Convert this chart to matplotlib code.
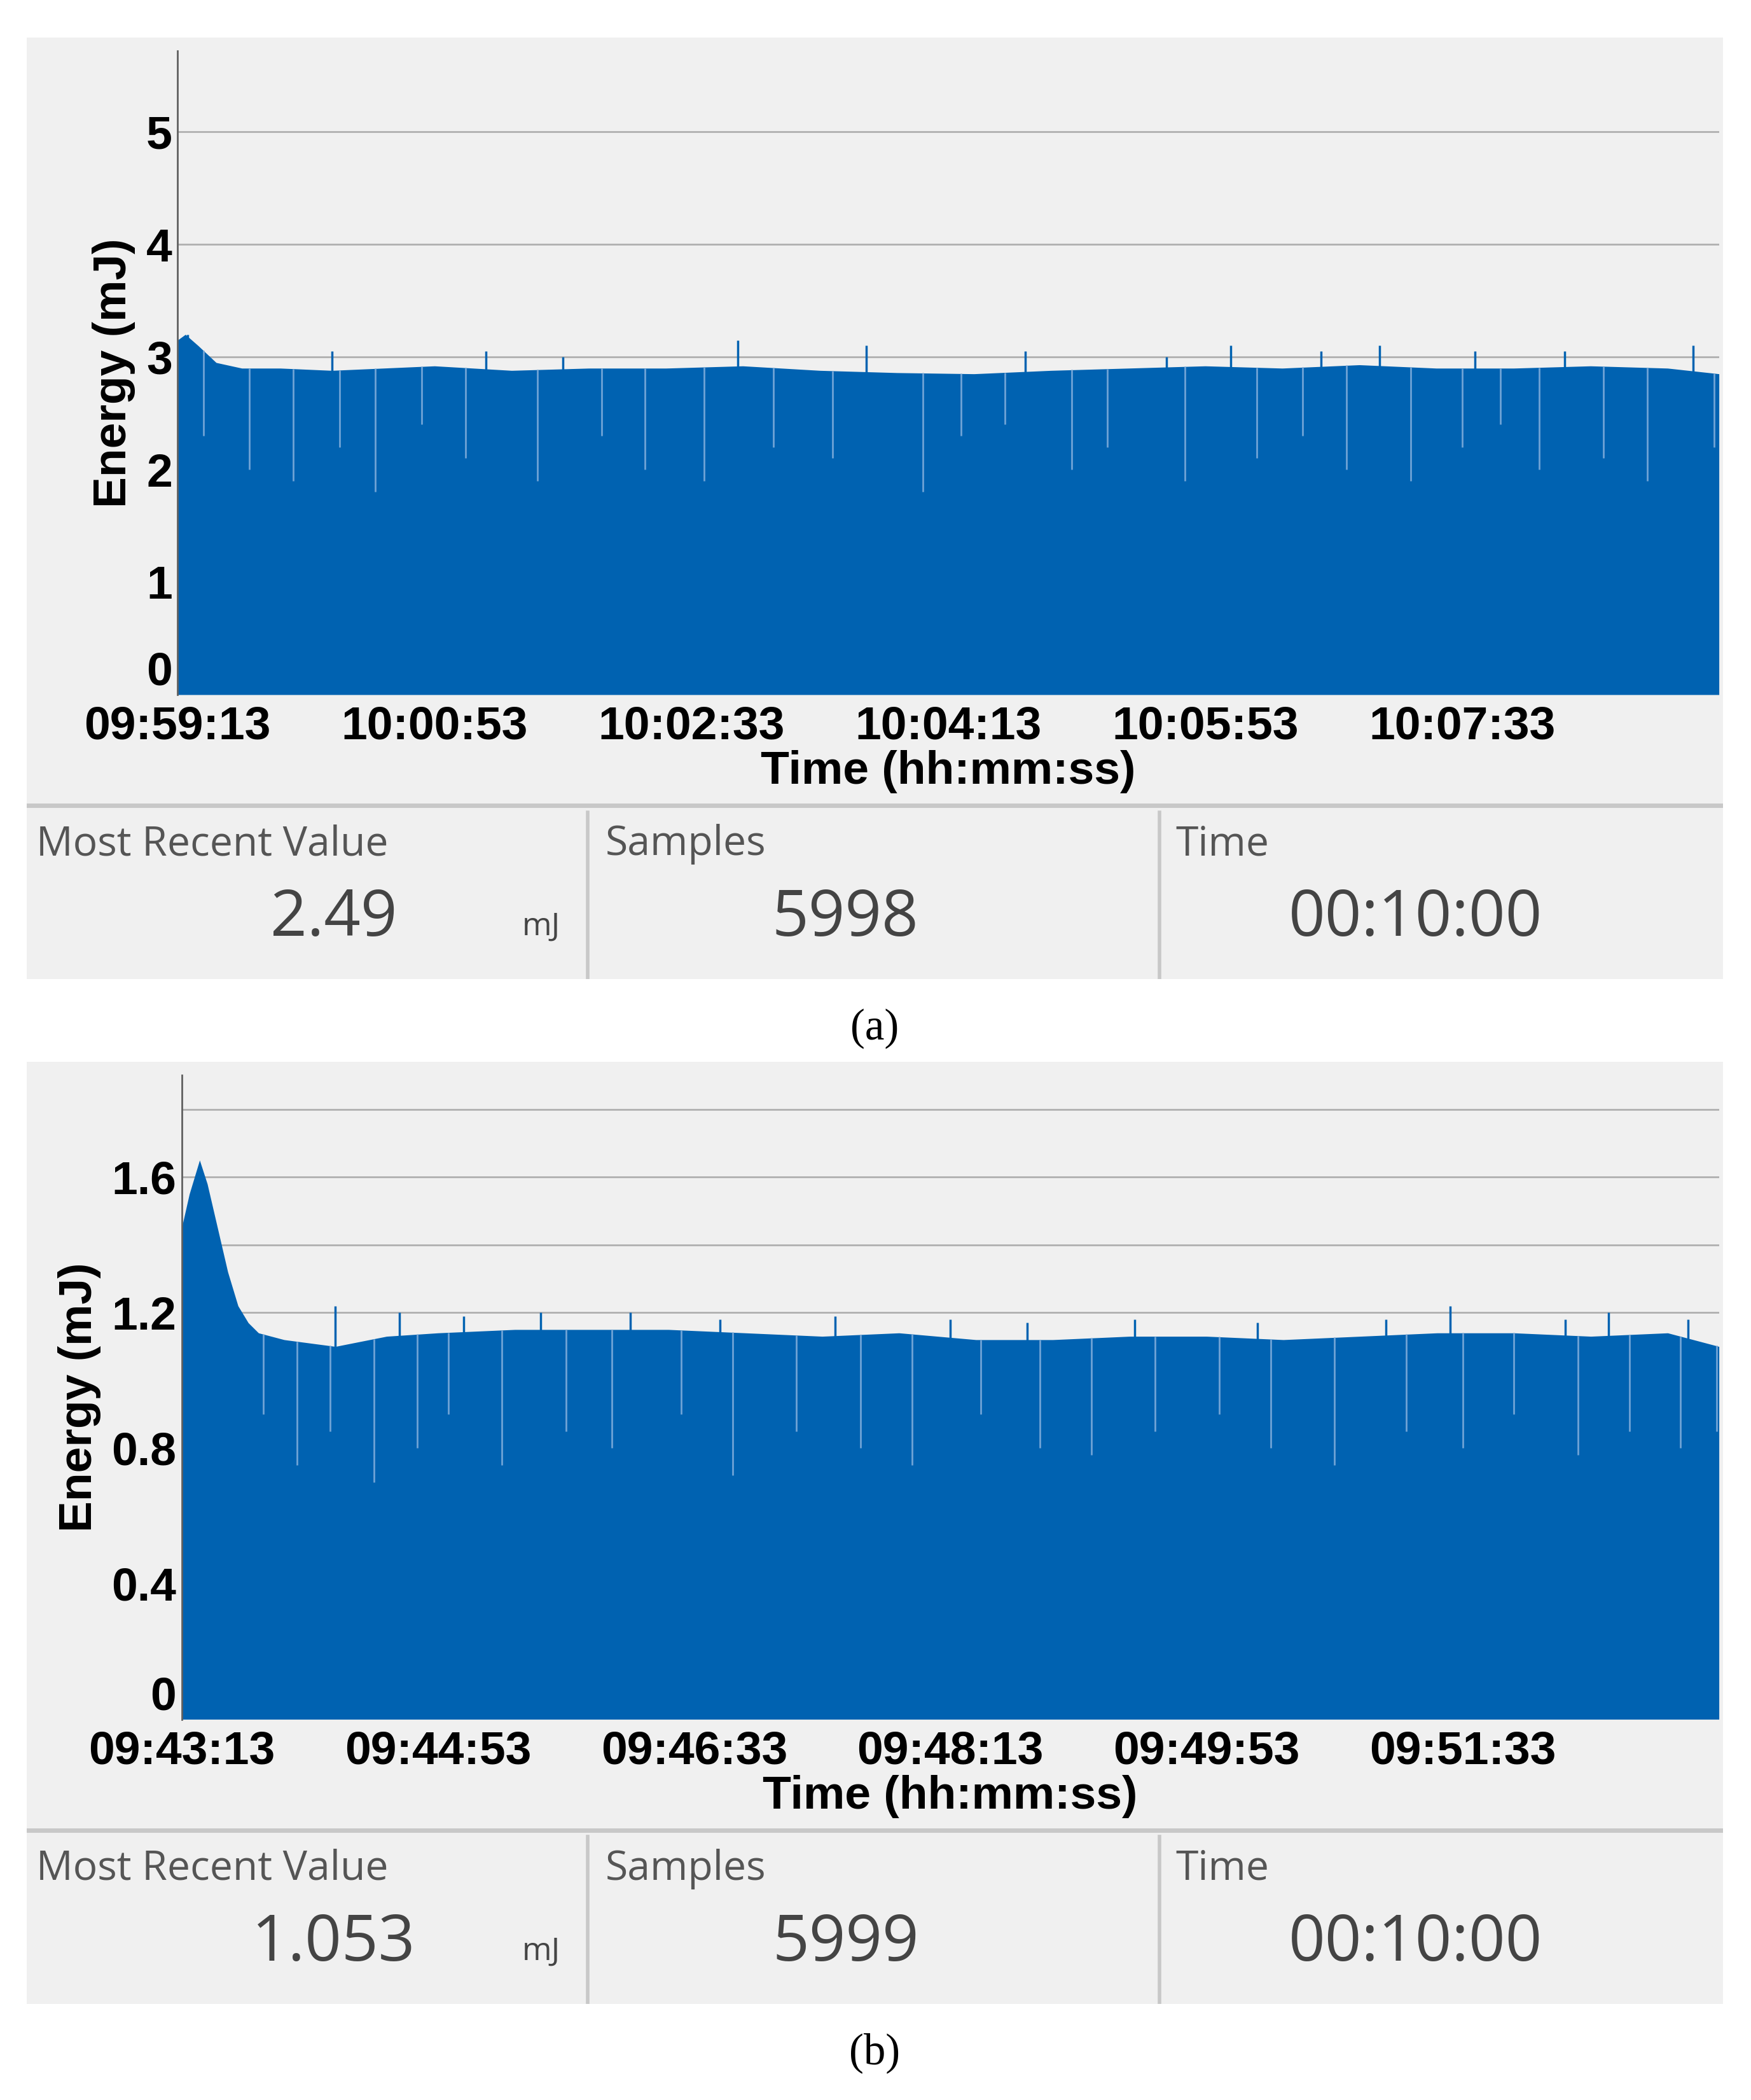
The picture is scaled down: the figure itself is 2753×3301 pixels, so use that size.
import numpy as np
import matplotlib.pyplot as plt
from matplotlib.patches import Rectangle

# ---- data (seconds from start, energy in mJ) ----
A_T = [0, 3, 8, 15, 25, 40, 60, 80, 100, 130, 160, 190, 220, 250, 280, 310,
       340, 370, 400, 430, 460, 490, 520, 550, 580, 600]
A_TOP = [3.15, 3.2, 3.1, 2.95, 2.9, 2.9, 2.88, 2.9, 2.92, 2.88, 2.9, 2.9, 2.92,
         2.88, 2.86, 2.85, 2.88, 2.9, 2.92, 2.9, 2.93, 2.9, 2.9, 2.92, 2.9, 2.85]
A_SPIKE_T = [4, 60, 120, 150, 218, 268, 330, 385, 410, 445, 468, 505, 540, 590]
A_SPIKE_V = [3.2, 3.05, 3.05, 3.0, 3.15, 3.1, 3.05, 3.0, 3.1, 3.05, 3.1, 3.05, 3.05, 3.1]
A_DIP_T = [10, 28, 45, 63, 77, 95, 112, 140, 165, 182, 205, 232, 255, 290, 305,
           322, 348, 362, 392, 420, 438, 455, 480, 500, 515, 530, 555, 572, 598]
A_DIP_V = [2.3, 2.0, 1.9, 2.2, 1.8, 2.4, 2.1, 1.9, 2.3, 2.0, 1.9, 2.2, 2.1, 1.8,
           2.3, 2.4, 2.0, 2.2, 1.9, 2.1, 2.3, 2.0, 1.9, 2.2, 2.4, 2.0, 2.1, 1.9, 2.2]

B_T = [0, 3, 7, 10, 14, 18, 22, 26, 30, 40, 60, 80, 100, 130, 160, 190, 220,
       250, 280, 310, 340, 370, 400, 430, 460, 490, 520, 550, 580, 600]
B_TOP = [1.45, 1.55, 1.65, 1.58, 1.45, 1.32, 1.22, 1.17, 1.14, 1.12, 1.1, 1.13,
         1.14, 1.15, 1.15, 1.15, 1.14, 1.13, 1.14, 1.12, 1.12, 1.13, 1.13, 1.12,
         1.13, 1.14, 1.14, 1.13, 1.14, 1.1]
B_SPIKE_T = [60, 85, 110, 140, 175, 210, 255, 300, 330, 372, 420, 470, 495, 540, 557, 588]
B_SPIKE_V = [1.22, 1.2, 1.19, 1.2, 1.2, 1.18, 1.19, 1.18, 1.17, 1.18, 1.17, 1.18,
             1.22, 1.18, 1.2, 1.18]
B_DIP_T = [32, 45, 58, 75, 92, 104, 125, 150, 168, 195, 215, 240, 265, 285, 312,
           335, 355, 380, 405, 425, 450, 478, 500, 520, 545, 565, 585, 599]
B_DIP_V = [0.9, 0.75, 0.85, 0.7, 0.8, 0.9, 0.75, 0.85, 0.8, 0.9, 0.72, 0.85, 0.8,
           0.75, 0.9, 0.8, 0.78, 0.85, 0.9, 0.8, 0.75, 0.85, 0.8, 0.9, 0.78, 0.85,
           0.8, 0.85]

TICKS_A = ["09:59:13", "10:00:53", "10:02:33", "10:04:13", "10:05:53", "10:07:33"]
TICKS_B = ["09:43:13", "09:44:53", "09:46:33", "09:48:13", "09:49:53", "09:51:33"]
STATS_A = ["2.49", "5998", "00:10:00"]
STATS_B = ["1.053", "5999", "00:10:00"]

W, H = 1311, 1572
BLUE = "#0062B1"
BG = "#F0F0F0"
fig = plt.figure(figsize=(27.53, 33.01), dpi=100)
S = 3.3  # reference px -> points


def box(x0, y0, x1, y1):
    return [x0 / W, 1 - y1 / H, (x1 - x0) / W, (y1 - y0) / H]


def panel(top, ts, top_v, sp_t, sp_v, dip_t, dip_v, ticks, stats, ymax, yt, ylabs,
          grid, left, letter):
    # background
    bg = fig.add_axes(box(20, top, 1290, top + 705))
    bg.set_xlim(0, 1270); bg.set_ylim(705, 0); bg.axis("off")
    bg.add_patch(Rectangle((0, 0), 1270, 705, color=BG))
    bg.plot([0, 1270], [575, 575], color="#C8C8C8", lw=5)
    bg.plot([420, 420], [580, 705], color="#C8C8C8", lw=4)
    bg.plot([848, 848], [580, 705], color="#C8C8C8", lw=4)
    f = "Open Sans"
    for x, lab in [(7, "Most Recent Value"), (433, "Samples"), (860, "Time")]:
        bg.text(x, 604, lab, fontsize=14 * S, color="#555555", family=f, va="center")
    bg.text(230, 660, stats[0], fontsize=22 * S, color="#444444", family=f,
            ha="center", va="center")
    bg.text(385, 666, "mJ", fontsize=11 * S, color="#444444", family=f,
            ha="center", va="center")
    bg.text(613, 660, stats[1], fontsize=22 * S, color="#444444", family=f,
            ha="center", va="center")
    bg.text(1040, 660, stats[2], fontsize=22 * S, color="#444444", family=f,
            ha="center", va="center")

    ax = fig.add_axes(box(left, top + 10, 1287, top + 492))
    ax.set_facecolor(BG)
    t = np.linspace(0, 600, 3000)
    up = np.interp(t, ts, top_v)
    ax.fill_between(t, 0, up, color=BLUE, lw=0, zorder=2)
    ax.vlines(sp_t, 0, sp_v, color=BLUE, lw=2.5, zorder=2)
    ax.vlines(dip_t, dip_v, np.interp(dip_t, ts, top_v), color="#6FA3D6", lw=2,
              zorder=3)
    ax.set_xlim(0, 600); ax.set_ylim(0, ymax)
    for g in grid:
        ax.axhline(g, color="#B0B0B0", lw=2, zorder=1)
    ax.set_yticks(yt, ylabs)
    ax.set_xticks([0, 100, 200, 300, 400, 500], ticks)
    for lab in ax.get_xticklabels() + ax.get_yticklabels():
        lab.set_family("Liberation Sans"); lab.set_weight("bold")
        lab.set_fontsize(16 * S)
    ax.tick_params(axis="y", length=0, pad=6)
    ax.tick_params(axis="x", length=0, pad=12)
    ax.get_yticklabels()[0].set_verticalalignment("bottom")
    for s in ["top", "right", "bottom"]:
        ax.spines[s].set_visible(False)
    ax.spines["left"].set_color("#606060"); ax.spines["left"].set_linewidth(2)
    ax.set_ylabel("Energy (mJ)", family="Liberation Sans", weight="bold",
                  fontsize=16 * S, labelpad=12)
    ax.set_xlabel("Time (hh:mm:ss)", family="Liberation Sans", weight="bold",
                  fontsize=16 * S, labelpad=2)
    fig.text(655 / W, 1 - (top + 742) / H, f"({letter})", ha="center",
             va="center", fontsize=15 * S, family="Liberation Serif")
    return ax


panel(28, A_T, A_TOP, A_SPIKE_T, A_SPIKE_V, A_DIP_T, A_DIP_V, TICKS_A, STATS_A,
      5.72, [0, 1, 2, 3, 4, 5], ["0", "1", "2", "3", "4", "5"],
      [1, 2, 3, 4, 5], 133, "a")
panel(795, B_T, B_TOP, B_SPIKE_T, B_SPIKE_V, B_DIP_T, B_DIP_V, TICKS_B, STATS_B,
      1.9, [0, 0.4, 0.8, 1.2, 1.6], ["0", "0.4", "0.8", "1.2", "1.6"],
      [0.2, 0.4, 0.6, 0.8, 1.0, 1.2, 1.4, 1.6, 1.8], 136, "b")

fig.savefig("out.png", dpi=100, facecolor="white")
